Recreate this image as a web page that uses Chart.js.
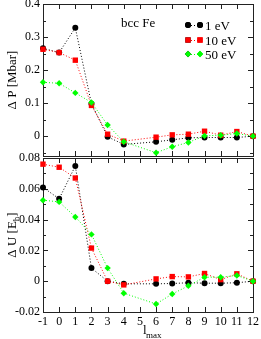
<!DOCTYPE html>
<html>
<head>
<meta charset="utf-8">
<script src="https://cdn.jsdelivr.net/npm/chart.js@4.4.1/dist/chart.umd.min.js"></script>
<style>
  html, body { margin: 0; padding: 0; background: #fff; }
  #wrap { position: relative; width: 261px; height: 339px; overflow: hidden; }
  canvas { position: absolute; left: 0; }
</style>
</head>
<body>
<div id="wrap">
  <canvas id="topChart" width="261" height="160" style="top:0px"></canvas>
  <canvas id="botChart" width="261" height="199" style="top:140px"></canvas>
</div>
<script>
// ---- data ----
const L_MAX   = [-1, 0, 1, 2, 3, 4, 6, 7, 8, 9, 10, 11, 12];
const X_TICKS = [-1, 0, 1, 2, 3, 4, 5, 6, 7, 8, 9, 10, 11, 12];

const DP_1EV  = [0.266, 0.253, 0.328, 0.098, -0.002, -0.025, -0.017, -0.011, -0.005, -0.004, -0.004, -0.004, 0];
const DP_10EV = [0.263, 0.253, 0.230, 0.093, 0.006, -0.015, -0.003, 0.004, 0.006, 0.015, 0.003, 0.014, 0];
const DP_50EV = [0.163, 0.160, 0.131, 0.102, 0.034, -0.017, -0.050, -0.032, -0.019, 0.001, 0.003, 0.008, 0];

const DU_1EV  = [0.0609, 0.0535, 0.0748, 0.0085, 0.0000, -0.0017, -0.0017, -0.0015, -0.0010, -0.0013, -0.0013, -0.0010, 0];
const DU_10EV = [0.0760, 0.0740, 0.0670, 0.0215, 0.0000, -0.0024, 0.0015, 0.0030, 0.0028, 0.0050, 0.0010, 0.0048, 0];
const DU_50EV = [0.0526, 0.0515, 0.0417, 0.0304, 0.0085, -0.0078, -0.0148, -0.0083, -0.0030, 0.0026, 0.0026, 0.0037, 0];

const DP_TICKS = [0, 0.1, 0.2, 0.3, 0.4];
const DP_MINOR = [-0.05, 0.05, 0.15, 0.25, 0.35];
const DU_TICKS = [-0.02, 0, 0.02, 0.04, 0.06, 0.08];
const DU_MINOR = [-0.01, 0.01, 0.03, 0.05, 0.07];

const SERIES_LABELS = ["1 eV", "10 eV", "50 eV"];
const COLORS  = ["#000000", "#ff0000", "#00ff00"];
const SHAPES  = ["circle", "rect", "rectRot"];
const RADII   = [3, 3.8, 3.2];

const FONT = "'Liberation Serif', 'DejaVu Serif', serif";

function pts(ys) {
  return L_MAX.map((x, i) => ({ x, y: ys[i] }));
}

function makeSets(seriesList) {
  // green on top, then red, black underneath
  return seriesList.map((ys, i) => ({
    label: SERIES_LABELS[i],
    data: pts(ys),
    borderColor: COLORS[i],
    backgroundColor: COLORS[i],
    borderWidth: 1,
    borderDash: [1, 2],
    pointStyle: SHAPES[i],
    pointRadius: RADII[i],
    pointBorderWidth: 0,
    tension: 0,
    clip: false,
    order: 2 - i
  }));
}

// frame + inward ticks on all four sides
const frameTicks = {
  id: "frameTicks",
  beforeDatasetsDraw(chart, args, opts) {
    const { ctx, chartArea: a, scales: { x, y } } = chart;
    ctx.save();
    ctx.strokeStyle = "#222";
    ctx.lineWidth = 1;
    ctx.strokeRect(a.left + 0.5, a.top + 0.5, a.right - a.left, a.bottom - a.top);
    ctx.beginPath();
    X_TICKS.forEach(v => {
      const px = Math.round(x.getPixelForValue(v)) + 0.5;
      ctx.moveTo(px, a.bottom); ctx.lineTo(px, a.bottom - 5);
      ctx.moveTo(px, a.top);    ctx.lineTo(px, a.top + 5);
    });
    opts.major.forEach(v => {
      const py = Math.round(y.getPixelForValue(v)) + 0.5;
      ctx.moveTo(a.left, py);  ctx.lineTo(a.left + 5, py);
      ctx.moveTo(a.right, py); ctx.lineTo(a.right - 5, py);
    });
    opts.minor.forEach(v => {
      const py = Math.round(y.getPixelForValue(v)) + 0.5;
      ctx.moveTo(a.left, py);  ctx.lineTo(a.left + 3, py);
      ctx.moveTo(a.right, py); ctx.lineTo(a.right - 3, py);
    });
    ctx.stroke();
    ctx.restore();
  }
};

// axis titles with subscripts, legend, annotation
const texts = {
  id: "texts",
  afterDraw(chart, args, opts) {
    const { ctx } = chart;
    ctx.save();
    ctx.fillStyle = "#000";
    ctx.textBaseline = "alphabetic";

    // rotated y title: list of [text, isSub]
    ctx.save();
    ctx.translate(opts.yTitleX, opts.yTitleY);
    ctx.rotate(-Math.PI / 2);
    const big = "13px " + FONT, small = "9px " + FONT;
    let w = 0;
    opts.yTitle.forEach(([t, sub]) => { ctx.font = sub ? small : big; w += ctx.measureText(t).width; });
    let cx = -w / 2;
    opts.yTitle.forEach(([t, sub]) => {
      ctx.font = sub ? small : big;
      ctx.fillText(t, cx, sub ? 7 : 4);
      cx += ctx.measureText(t).width;
    });
    ctx.restore();

    if (opts.legend) {
      ctx.font = "13px " + FONT;
      ctx.fillText("bcc Fe", 121, 27);
      const rows = [25, 40, 54];
      rows.forEach((ry, i) => {
        ctx.strokeStyle = COLORS[i];
        ctx.setLineDash([1, 2]);
        ctx.beginPath(); ctx.moveTo(188, ry + 0.5); ctx.lineTo(200, ry + 0.5); ctx.stroke();
        ctx.setLineDash([]);
        [188, 200].forEach(px => {
          Chart.helpers.drawPoint(ctx, { pointStyle: SHAPES[i], radius: RADII[i], borderWidth: 0 }, px, ry);
          ctx.fillStyle = COLORS[i];
          ctx.fill();
        });
        ctx.fillStyle = "#000";
        ctx.font = "13px " + FONT;
        ctx.fillText(SERIES_LABELS[i], 205, ry + 4.5);
      });
    }

    if (opts.xTitle) {
      ctx.font = "13px " + FONT;
      ctx.fillText("l", 143, opts.xTitleY);
      ctx.font = "9px " + FONT;
      ctx.fillText("max", 146, opts.xTitleY + 4);
    }
    ctx.restore();
  }
};

function makeChart(id, seriesList, yMin, yMax, major, minor, pad, xHeight, showX, textOpts) {
  return new Chart(document.getElementById(id), {
    type: "line",
    data: { datasets: makeSets(seriesList) },
    options: {
      responsive: false,
      animation: false,
      events: [],
      layout: { padding: pad },
      plugins: {
        legend: { display: false },
        tooltip: { enabled: false },
        frameTicks: { major, minor },
        texts: textOpts
      },
      scales: {
        x: {
          type: "linear",
          min: -1, max: 12,
          afterBuildTicks: s => { s.ticks = X_TICKS.map(v => ({ value: v })); },
          afterFit: s => { s.height = xHeight; s.paddingLeft = 0; s.paddingRight = 0; },
          grid: { display: false, drawTicks: false },
          border: { display: false },
          ticks: {
            display: showX,
            padding: 3,
            color: "#000",
            font: { family: FONT, size: 12 },
            maxRotation: 0,
            autoSkip: false,
            callback: v => String(v)
          }
        },
        y: {
          type: "linear",
          min: yMin, max: yMax,
          afterBuildTicks: s => { s.ticks = major.map(v => ({ value: v })); },
          afterFit: s => { s.width = 43; s.paddingTop = 0; s.paddingBottom = 0; },
          grid: { display: false, drawTicks: false },
          border: { display: false },
          ticks: {
            padding: 3,
            color: "#000",
            font: { family: FONT, size: 12 },
            callback: v => String(v)
          }
        }
      }
    },
    plugins: [frameTicks, texts]
  });
}

makeChart("topChart", [DP_1EV, DP_10EV, DP_50EV], -0.06, 0.4, DP_TICKS, DP_MINOR,
  { top: 4, right: 8, bottom: 2, left: 0 }, 0, false,
  { yTitle: [["\u0394 P [Mbar]", false]], yTitleX: 12, yTitleY: 80, legend: true, xTitle: false });

makeChart("botChart", [DU_1EV, DU_10EV, DU_50EV], -0.02, 0.08, DU_TICKS, DU_MINOR,
  { top: 18, right: 8, bottom: 0, left: 0 }, 27, true,
  { yTitle: [["\u0394 U [E", false], ["h", true], ["]", false]], yTitleX: 12, yTitleY: 95, legend: false,
    xTitle: true, xTitleY: 194 });
</script>
</body>
</html>
